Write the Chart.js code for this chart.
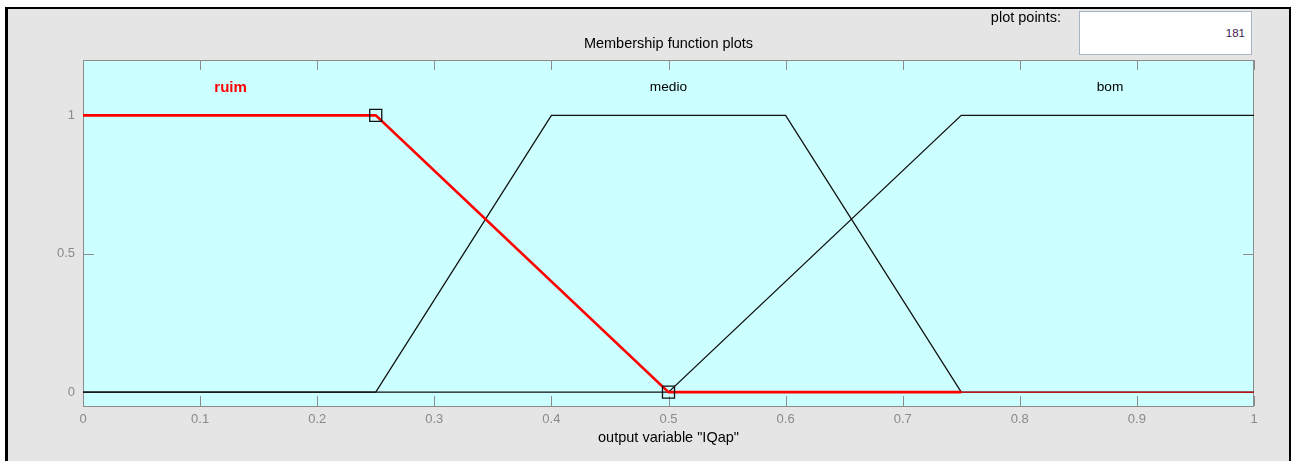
<!DOCTYPE html>
<html>
<head>
<meta charset="utf-8">
<script src="https://cdn.jsdelivr.net/npm/chart.js@4"></script>
<style>
  html, body { margin: 0; padding: 0; background: #fff; }
  #wrap { position: relative; width: 1295px; height: 461px; overflow: hidden; }
  #frame {
    position: absolute; left: 5px; top: 7px; width: 1286px; height: 454px;
    background: #e5e5e5; border-left: 3px solid #000; border-top: 2px solid #000; border-right: 2px solid #000;
    box-sizing: border-box;
  }
  canvas { position: absolute; left: 0; top: 0; }
  #ppLabel {
    position: absolute; left: 940px; top: 9px; width: 121px; text-align: right;
    font: 14.5px "Liberation Sans", Arial, sans-serif; color: #000;
  }
  #ppBox {
    position: absolute; left: 1079px; top: 11px; width: 173px; height: 44px; box-sizing: border-box;
    background: #fff; border: 1px solid #a7b3c6; text-align: right; padding-right: 6px;
    font: 11.5px "Liberation Sans", Arial, sans-serif; color: #3a2050; line-height: 42px;
  }
</style>
</head>
<body>
<div id="wrap">
  <div id="frame"></div>
  <canvas id="mfChart" width="1295" height="461"></canvas>
  <div id="ppLabel">plot points:</div>
  <div id="ppBox">181</div>
</div>
<script>
// membership functions of output variable "IQap"
const ruimX = [0, 0.25, 0.5, 0.75, 1];
const ruimY = [1, 1, 0, 0, 0];
const medioX = [0, 0.25, 0.4, 0.6, 0.75, 1];
const medioY = [0, 0, 1, 1, 0, 0];
const bomX = [0, 0.5, 0.75, 1];
const bomY = [0, 0, 1, 1];
// selected MF parameter handles (squares)
const handleX = [0.25, 0.5];
const handleY = [1, 0];

const mfNames = ['ruim', 'medio', 'bom'];
const mfLabelX = [0.126, 0.5, 0.877];
const mfLabelY = 1.1;

const xTicks = [0, 0.1, 0.2, 0.3, 0.4, 0.5, 0.6, 0.7, 0.8, 0.9, 1];
const yTicks = [0, 0.5, 1];

const toPts = (xs, ys) => xs.map((x, i) => ({ x: x, y: ys[i] }));

const FONT = '"Liberation Sans", Arial, sans-serif';

const decorPlugin = {
    id: 'decor',
    beforeDatasetsDraw(chart) {
        const { ctx, chartArea: a, scales } = chart;
        const xs = scales.x, ys = scales.y;
        ctx.save();
        ctx.fillStyle = '#ccffff';
        ctx.fillRect(a.left, a.top, a.right - a.left, a.bottom - a.top);
        // box
        ctx.strokeStyle = '#8c8c8c';
        ctx.lineWidth = 1;
        ctx.strokeRect(a.left + 0.5, a.top + 0.5, a.right - a.left - 1, a.bottom - a.top);
        // inward ticks
        ctx.beginPath();
        xTicks.forEach(v => {
            const px = Math.round(xs.getPixelForValue(v)) + 0.5;
            ctx.moveTo(px, a.bottom); ctx.lineTo(px, a.bottom - 10);
            ctx.moveTo(px, a.top); ctx.lineTo(px, a.top + 10);
        });
        yTicks.forEach(v => {
            const py = Math.round(ys.getPixelForValue(v)) + 0.5;
            ctx.moveTo(a.left, py); ctx.lineTo(a.left + 11, py);
            ctx.moveTo(a.right, py); ctx.lineTo(a.right - 11, py);
        });
        ctx.stroke();
        ctx.restore();
    },
    afterDatasetsDraw(chart) {
        const { ctx, chartArea: a, scales } = chart;
        const xs = scales.x, ys = scales.y;
        ctx.save();
        // MF names
        ctx.textAlign = 'center';
        ctx.textBaseline = 'middle';
        mfNames.forEach((n, i) => {
            ctx.fillStyle = i === 0 ? '#ff0000' : '#000';
            ctx.font = (i === 0 ? 'bold 15px ' : '13.7px ') + FONT;
            ctx.fillText(n, xs.getPixelForValue(mfLabelX[i]), ys.getPixelForValue(mfLabelY));
        });

        // titles
        ctx.fillStyle = '#000';
        ctx.font = '14.5px ' + FONT;
        const cx = (a.left + a.right) / 2;
        ctx.fillText('Membership function plots', cx, 44);
        ctx.fillText('output variable "IQap"', cx, 438);
        ctx.restore();
    }
};

new Chart(document.getElementById('mfChart').getContext('2d'), {
    type: 'line',
    data: {
        datasets: [
            {
                label: 'handles',
                data: toPts(handleX, handleY),
                showLine: false,
                pointStyle: 'rect',
                pointRadius: 8.5,
                pointBackgroundColor: 'rgba(0,0,0,0)',
                pointBorderColor: '#111',
                pointBorderWidth: 1.3
            },
            {
                label: 'ruim',
                data: toPts(ruimX, ruimY),
                borderColor: '#ff0000',
                borderWidth: 2.6,
                pointRadius: 0,
                segment: {
                    borderWidth: c => c.p0.parsed.x >= 0.75 ? 1 : 2.6
                }
            },
            {
                label: 'medio',
                data: toPts(medioX, medioY),
                borderColor: '#111',
                borderWidth: 1.3,
                pointRadius: 0
            },
            {
                label: 'bom',
                data: toPts(bomX, bomY),
                borderColor: '#111',
                borderWidth: 1.3,
                pointRadius: 0
            }
        ]
    },
    options: {
        responsive: false,
        animation: false,
        layout: { padding: { top: 60, left: 0, right: 41, bottom: 0 } },
        plugins: {
            legend: { display: false },
            tooltip: { enabled: false },
            title: { display: false }
        },
        scales: {
            x: {
                type: 'linear',
                min: 0,
                max: 1,
                afterBuildTicks: s => { s.ticks = xTicks.map(v => ({ value: v })); },
                afterFit: s => { s.height = 55; },
                grid: { display: false, drawTicks: false },
                border: { display: false },
                ticks: {
                    padding: 6,
                    color: '#8a8a8a',
                    font: { family: FONT, size: 13 },
                    maxRotation: 0,
                    autoSkip: false,
                    callback: v => String(v)
                }
            },
            y: {
                type: 'linear',
                min: -0.05,
                max: 1.2,
                afterBuildTicks: s => { s.ticks = yTicks.map(v => ({ value: v })); },
                afterFit: s => { s.width = 83; },
                grid: { display: false, drawTicks: false },
                border: { display: false },
                ticks: {
                    padding: 8,
                    color: '#8a8a8a',
                    font: { family: FONT, size: 13 },
                    callback: v => String(v)
                }
            }
        }
    },
    plugins: [decorPlugin]
});
</script>
</body>
</html>
